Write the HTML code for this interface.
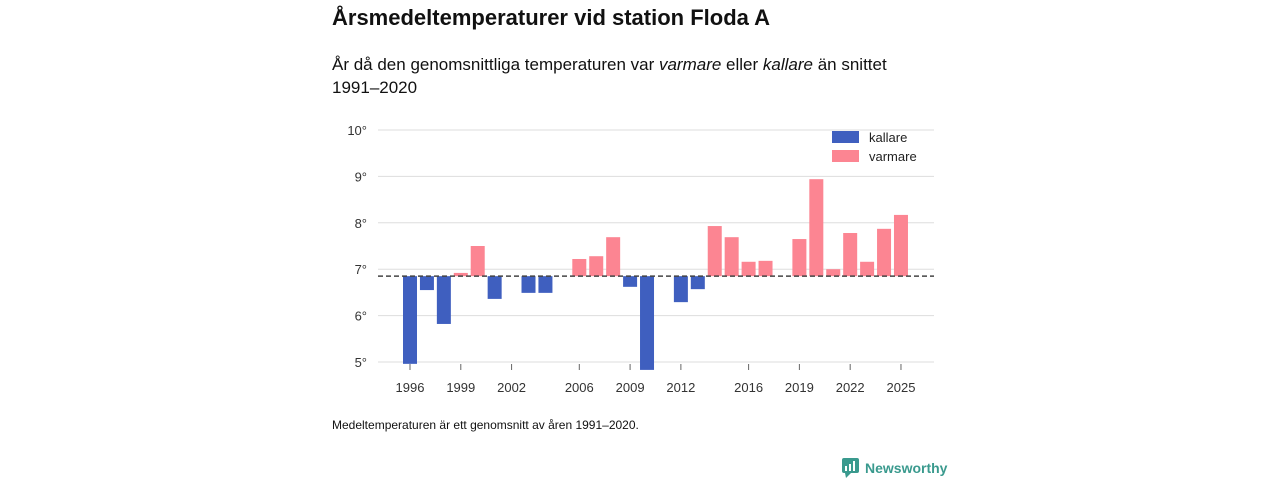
<!DOCTYPE html>
<html><head><meta charset="utf-8">
<style>
body{margin:0;width:1280px;height:480px;background:#fff;font-family:"Liberation Sans","DejaVu Sans",sans-serif;color:#111;position:relative;overflow:hidden}
.t{position:absolute;left:332px}
</style></head><body>
<div class="t" style="top:5px;font-size:22px;font-weight:bold">Årsmedeltemperaturer vid station Floda A</div>
<div class="t" style="top:53px;font-size:17px;line-height:23px;width:600px">År då den genomsnittliga temperaturen var <i>varmare</i> eller <i>kallare</i> än snittet 1991–2020</div>
<svg id="chart" style="position:absolute;left:0;top:0" width="1280" height="480"></svg>
<div class="t" style="top:418px;font-size:12px">Medeltemperaturen är ett genomsnitt av åren 1991–2020.</div>
<div style="position:absolute;left:842px;top:458px;font-size:14px;color:#3a9a8e;font-weight:bold;display:flex;align-items:center">
<svg width="18" height="20" style="margin-right:5px"><rect x="0" y="0" width="17" height="15" rx="2" fill="#3a9a8e"/><polygon points="3,15 9,15 4,20" fill="#3a9a8e"/><rect x="3" y="8" width="2" height="5" fill="#fff"/><rect x="7" y="6" width="2" height="7" fill="#fff"/><rect x="11" y="3" width="2" height="10" fill="#fff"/></svg>Newsworthy</div>
<script>
const years=[1996,1997,1998,1999,2000,2001,2002,2003,2004,2005,2006,2007,2008,2009,2010,2011,2012,2013,2014,2015,2016,2017,2018,2019,2020,2021,2022,2023,2024,2025];
const temps=[4.96,6.55,5.82,6.92,7.5,6.36,null,6.49,6.49,null,7.22,7.28,7.69,6.62,4.83,null,6.29,6.57,7.93,7.69,7.16,7.18,null,7.65,8.94,7.0,7.78,7.16,7.87,8.17];
const baseline=6.85;
const yTicks=[5,6,7,8,9,10];
const xTicks=[1996,1999,2002,2006,2009,2012,2016,2019,2022,2025];
const ns="http://www.w3.org/2000/svg",svg=document.getElementById('chart');
const y=v=>130+(10-v)*46.4, x=yr=>410+(yr-1996)*16.93;
function mk(t,a){const e=document.createElementNS(ns,t);for(const k in a)e.setAttribute(k,a[k]);svg.appendChild(e);return e;}
yTicks.forEach(t=>{
 const g=mk('line',{x1:378,x2:934,y1:y(t),y2:y(t),stroke:'#ddd'});
 
 
 const l=mk('text',{x:367,y:y(t)+5,'text-anchor':'end','font-size':13,fill:'#333'});l.textContent=t+'°';
 
 
});
xTicks.forEach(t=>{
 mk('line',{x1:x(t),x2:x(t),y1:364,y2:370,stroke:'#666'});
 const l=mk('text',{x:x(t),y:392,'text-anchor':'middle','font-size':13,fill:'#333'});l.textContent=t;
 
 
});
years.forEach((yr,i)=>{const v=temps[i];if(v==null)return;
 const top=Math.min(y(v),y(baseline)),h=Math.abs(y(v)-y(baseline));
 const r=mk('rect',{x:x(yr)-7,y:top,width:14,height:Math.max(h,1),fill:v<baseline?'#3f5fbf':'#fc8592'});
 
 
});
const b=mk('line',{x1:378,x2:934,y1:y(baseline),y2:y(baseline),stroke:'#444','stroke-width':1.5,'stroke-dasharray':'5,3'});


[['kallare','#3f5fbf',137],['varmare','#fc8592',156]].forEach(([n,c,yy])=>{
 const r=mk('rect',{x:832,y:yy-6,width:27,height:12,fill:c});
 
 
 const t=mk('text',{x:869,y:yy+5,'font-size':13,fill:'#222'});t.textContent=n;
 
 
});
</script>
</body></html>
